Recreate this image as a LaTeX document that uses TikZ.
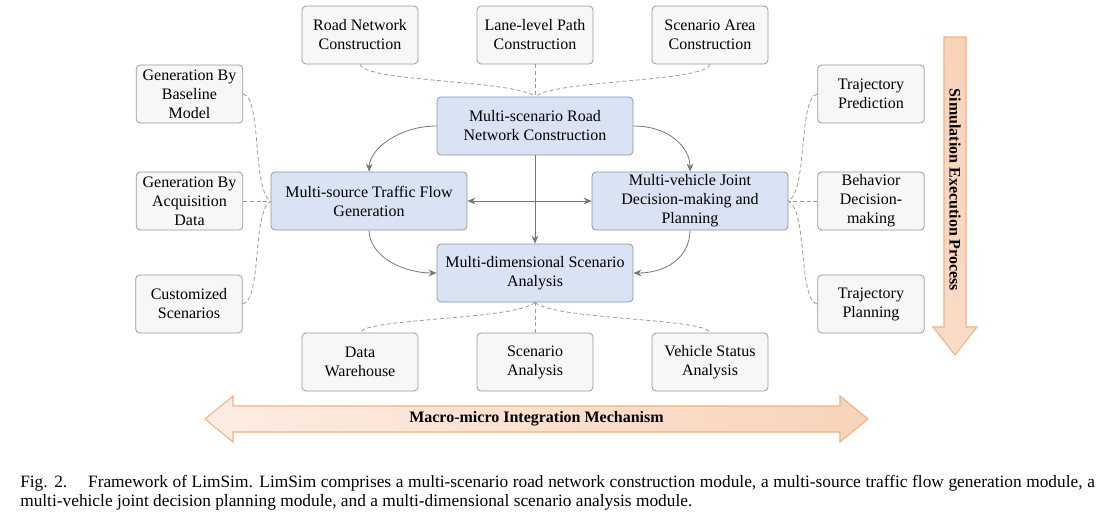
\documentclass[tikz,border=0pt]{standalone}
\usepackage{fontspec}
\setmainfont{Liberation Serif}
\usetikzlibrary{arrows.meta,shapes.misc}
\definecolor{boxfill}{HTML}{F8F6F6}
\definecolor{boxline}{HTML}{9A9A9A}
\definecolor{bluefill}{HTML}{DAE3F3}
\definecolor{blueline}{HTML}{8A96A8}
\definecolor{dashc}{HTML}{9A9A9A}
\definecolor{arrc}{HTML}{777777}
\definecolor{orline}{HTML}{F4B183}
\definecolor{orfillA}{HTML}{F8D3BA}
\definecolor{orfillB}{HTML}{FCEDE4}
\tikzset{
  sub/.style={draw=boxline, fill=boxfill, rounded corners=3pt, line width=0.6pt,
    minimum width=87pt, minimum height=43.5pt, align=center, inner sep=1pt,
    font=\fontsize{12}{14.25}\selectfont},
  side/.style={sub, minimum width=80pt},
  mainbox/.style={draw=blueline, fill=bluefill, rounded corners=3pt, line width=0.6pt,
    minimum width=147pt, minimum height=43.5pt, align=center, inner sep=1pt,
    font=\fontsize{12}{14.25}\selectfont},
  dashlink/.style={draw=dashc, dash pattern=on 3pt off 2pt, line width=0.6pt},
  arrlink/.style={draw=arrc, line width=0.6pt, -{Stealth[length=6pt,width=5pt]}},
  biarr/.style={draw=arrc, line width=0.6pt, {Stealth[length=6pt,width=5pt]}-{Stealth[length=6pt,width=5pt]}},
  bigarrow/.style={draw=orline, line width=0.8pt}
}
\begin{document}
\begin{tikzpicture}[x=0.75pt,y=-0.75pt]
\useasboundingbox (0,0) rectangle (1120,514);
% top sub boxes
\node[sub] (rn) at (360,35) {Road Network\\Construction};
\node[sub] (lp) at (535,35) {Lane-level Path\\Construction};
\node[sub] (sa) at (710,35) {Scenario Area\\Construction};
% main boxes
\node[mainbox] (msr) at (535,126) {Multi-scenario Road\\Network Construction};
\node[mainbox] (mst) at (369,201) {Multi-source Traffic Flow\\Generation};
\node[mainbox] (mvj) at (690,201) {Multi-vehicle Joint\\Decision-making and\\Planning};
\node[mainbox] (mda) at (535,273) {Multi-dimensional Scenario\\Analysis};
% left
\node[side] (gbm) at (189.5,94) {Generation By\\Baseline\\Model};
\node[side] (gad) at (189.5,201) {Generation By\\Acquisition\\Data};
\node[side] (cus) at (189,304) {Customized\\Scenarios};
% right
\node[side] (tp) at (871,94) {Trajectory\\Prediction};
\node[side] (bd) at (871,201) {Behavior\\Decision-\\making};
\node[side] (tpl) at (871,304) {Trajectory\\Planning};
% bottom
\node[sub] (dw) at (360,362) {Data\\Warehouse};
\node[sub] (sca) at (535,362) {Scenario\\Analysis};
\node[sub] (vsa) at (710,362) {Vehicle Status\\Analysis};

% dashed links top
\draw[dashlink] (rn.south) .. controls (365,82) and (515,80) .. (msr.north);
\draw[dashlink] (lp.south) -- (msr.north);
\draw[dashlink] (sa.south) .. controls (705,82) and (555,80) .. (msr.north);
% dashed links left
\draw[dashlink] (gbm.east) .. controls (262,98) and (252,190) .. (mst.west);
\draw[dashlink] (gad.east) -- (mst.west);
\draw[dashlink] (cus.east) .. controls (262,300) and (252,212) .. (mst.west);
% dashed links right
\draw[dashlink] (tp.west) .. controls (798,98) and (808,190) .. (mvj.east);
\draw[dashlink] (bd.west) -- (mvj.east);
\draw[dashlink] (tpl.west) .. controls (798,300) and (808,212) .. (mvj.east);
% dashed links bottom
\draw[dashlink] (mda.south) .. controls (515,320) and (365,318) .. (dw.north);
\draw[dashlink] (mda.south) -- (sca.north);
\draw[dashlink] (mda.south) .. controls (555,320) and (705,318) .. (vsa.north);

% solid arrows
\draw[arrlink] (msr.west) .. controls (400,126) and (370,148) .. (mst.north);
\draw[arrlink] (msr.east) .. controls (670,126) and (690,148) .. (mvj.north);
\draw[arrlink] (msr.south) -- (mda.north);
\draw[arrlink] (mst.south) .. controls (370,258) and (405,273) .. (mda.west);
\draw[arrlink] (mvj.south) .. controls (690,258) and (665,273) .. (mda.east);
\draw[biarr] (mst.east) -- (mvj.west);

% horizontal big arrow
\draw[bigarrow, left color=orfillB, right color=orfillA]
  (205,419) -- (233,396) -- (233,406) -- (840,406) -- (840,396) -- (868,419)
  -- (840,442) -- (840,432) -- (233,432) -- (233,442) -- cycle;
\node[font=\fontsize{12}{14}\selectfont\bfseries] (mim) at (536.5,419) {Macro-micro Integration Mechanism};
% vertical big arrow
\draw[bigarrow, top color=orfillA, bottom color=orfillA!70!orfillB]
  (944,37) -- (966,37) -- (966,327) -- (977,327) -- (955,355) -- (933,327) -- (944,327) -- cycle;
\node[font=\fontsize{12}{14}\selectfont\bfseries, rotate=-90] (sep) at (955,190) {Simulation Execution Process};

% caption
\node[anchor=west, inner sep=0pt, font=\fontsize{13}{15}\selectfont] (cap1) at (20,483)
  {\makebox[806pt][s]{Fig. 2.\hspace{1.2em}Framework of LimSim. LimSim comprises a multi-scenario road network construction module, a multi-source traffic flow generation module, a}};
\node[anchor=west, inner sep=0pt, font=\fontsize{13}{15}\selectfont] (cap2) at (20,502)
  {multi-vehicle joint decision planning module, and a multi-dimensional scenario analysis module.};
\end{tikzpicture}
\end{document}
